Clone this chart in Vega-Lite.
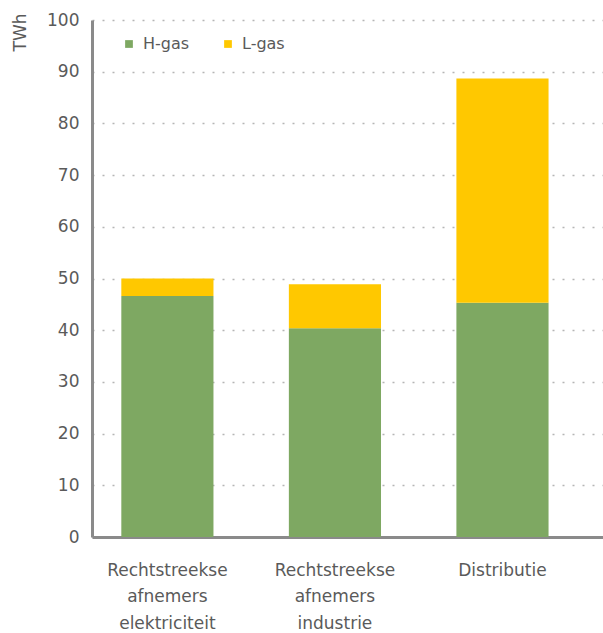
{
  "$schema": "https://vega.github.io/schema/vega-lite/v6.json",
  "width": 511,
  "height": 517,
  "autosize": {"type": "none"},
  "padding": {"left": 92, "top": 20, "right": 0, "bottom": 96},
  "background": "white",
  "data": {
    "values": [
      {"cat": "Rechtstreekse afnemers elektriciteit", "gas": "H-gas", "order": 1, "value": 46.6},
      {"cat": "Rechtstreekse afnemers elektriciteit", "gas": "L-gas", "order": 2, "value": 3.4},
      {"cat": "Rechtstreekse afnemers industrie", "gas": "H-gas", "order": 1, "value": 40.4},
      {"cat": "Rechtstreekse afnemers industrie", "gas": "L-gas", "order": 2, "value": 8.5},
      {"cat": "Distributie", "gas": "H-gas", "order": 1, "value": 45.3},
      {"cat": "Distributie", "gas": "L-gas", "order": 2, "value": 43.4}
    ]
  },
  "config": {
    "view": {"stroke": null},
    "font": "DejaVu Sans",
    "axis": {"labelFont": "DejaVu Sans", "titleFont": "DejaVu Sans"},
    "legend": {"labelFont": "DejaVu Sans"}
  },
  "mark": {"type": "bar"},
  "encoding": {
    "x": {
      "field": "cat",
      "type": "nominal",
      "sort": null,
      "scale": {"paddingInner": 0.45, "paddingOuter": 0.25, "align": 0.35},
      "axis": {
        "title": null,
        "labelAngle": 0,
        "labelExpr": "split(datum.label == 'Distributie' ? 'Distributie' : (indexof(datum.label, 'elektriciteit') >= 0 ? 'Rechtstreekse|afnemers|elektriciteit' : 'Rechtstreekse|afnemers|industrie'), '|')",
        "labelFontSize": 17,
        "labelColor": "#5a5a5a",
        "labelLineHeight": 26.5,
        "labelPadding": 25,
        "labelBaseline": "top",
        "ticks": false,
        "domainColor": "#8a8a8a",
        "domainWidth": 3
      }
    },
    "y": {
      "field": "value",
      "type": "quantitative",
      "stack": "zero",
      "scale": {"domain": [0, 100]},
      "axis": {
        "title": "TWh",
        "titleAngle": -90,
        "titleAnchor": "end",
        "titleAlign": "right",
        "titleBaseline": "middle",
        "titleX": -72,
        "titleY": -7,
        "titleFontSize": 17,
        "titleFontWeight": "normal",
        "titleColor": "#5a5a5a",
        "values": [0, 10, 20, 30, 40, 50, 60, 70, 80, 90, 100],
        "labelFontSize": 17,
        "labelColor": "#5a5a5a",
        "labelPadding": 13,
        "ticks": false,
        "domainColor": "#8a8a8a",
        "domainWidth": 3,
        "grid": true,
        "gridColor": "#b5b5b5",
        "gridDash": [2, 8],
        "gridWidth": 1.5
      }
    },
    "color": {
      "field": "gas",
      "type": "nominal",
      "scale": {"domain": ["H-gas", "L-gas"], "range": ["#7ea862", "#ffc800"]},
      "legend": {
        "title": null,
        "orient": "none",
        "legendX": 29,
        "legendY": 16,
        "direction": "horizontal",
        "symbolType": "square",
        "symbolSize": 60,
        "symbolStrokeWidth": 0,
        "labelFontSize": 16,
        "labelColor": "#5a5a5a",
        "labelOffset": 6,
        "columnPadding": 30
      }
    },
    "order": {"field": "order", "type": "quantitative"}
  }
}
